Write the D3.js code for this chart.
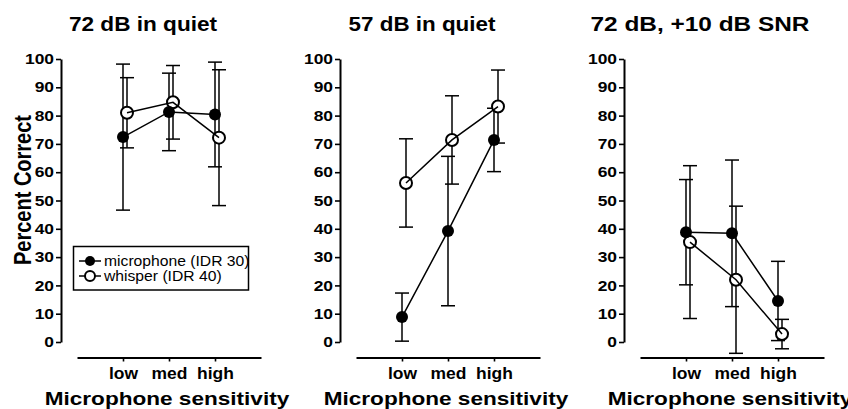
<!DOCTYPE html>
<html>
<head>
<meta charset="utf-8">
<script src="https://cdn.jsdelivr.net/npm/d3@7/dist/d3.min.js"></script>
<style>
  html, body { margin: 0; padding: 0; background: #fff; }
  svg { display: block; font-family: "Liberation Sans", Arial, sans-serif; }
</style>
</head>
<body>
<svg id="chart" width="848" height="409"></svg>
<script>
// ---- data ----
const categories = ["low", "med", "high"];
const panelTitles = ["72 dB in quiet", "57 dB in quiet", "72 dB, +10 dB SNR"];
const seriesNames = ["microphone (IDR 30)", "whisper (IDR 40)"];
// mean percent correct per panel, per microphone sensitivity
const micMean     = [[72.4, 81.3, 80.4], [8.8, 39.2, 71.4], [38.8, 38.4, 14.5]];
const micErr      = [[25.8, 13.7, 18.5], [8.5, 26.4, 11.2], [18.6, 25.9, 14.0]];
const whisperMean = [[81.0, 84.7, 72.2], [56.2, 71.4, 83.2], [35.3, 22.0, 2.8]];
const whisperErr  = [[12.4, 13.0, 24.0], [15.6, 15.6, 12.9], [27.0, 26.0, 5.2]];
const yTicks = [0, 10, 20, 30, 40, 50, 60, 70, 80, 90, 100];
const xTitle = "Microphone sensitivity";
const yTitle = "Percent Correct";

// ---- layout ----
const panelLeft = [61, 340, 624];      // y-axis position of each panel
const titleStretch = [1.13, 1.12, 1.22];
const titleShift = [82, 82, 76];
const xAxisY = 357.5;
const capHalf = 7;
const dodge = 4;                        // whisper series drawn slightly right

const svg = d3.select("#chart");
svg.append("rect").attr("width", 848).attr("height", 409).attr("fill", "#fff");

const y = d3.scaleLinear().domain([0, 100]).range([342, 59]);

function stretch(sel, k) {
  sel.each(function () {
    const w = this.getComputedTextLength();
    d3.select(this).attr("textLength", w * k).attr("lengthAdjust", "spacingAndGlyphs");
  });
}

const series = [
  { name: seriesNames[0], mean: micMean, err: micErr, filled: true, off: 0 },
  { name: seriesNames[1], mean: whisperMean, err: whisperErr, filled: false, off: dodge }
];

panelTitles.forEach((title, p) => {
  const ax = panelLeft[p];
  const x = d3.scaleLinear().domain([0, 4]).range([ax + 16, ax + 200]);
  const g = svg.append("g");

  // y axis
  const yAxis = g.append("g")
    .attr("transform", `translate(${ax},0)`)
    .call(d3.axisLeft(y).tickValues(yTicks).tickSize(5).tickSizeOuter(0).tickPadding(2));
  yAxis.select(".domain").attr("stroke", "#000").attr("stroke-width", 2);
  yAxis.selectAll(".tick line").attr("stroke", "#000").attr("stroke-width", 1.6);
  yAxis.selectAll(".tick text")
    .attr("fill", "#000").attr("font-size", 14.5).attr("font-weight", "bold")
    .attr("font-family", "Liberation Sans, Arial, sans-serif");
  stretch(yAxis.selectAll(".tick text"), 1.2);

  // x axis
  const xAxis = g.append("g")
    .attr("transform", `translate(0,${xAxisY})`)
    .call(d3.axisBottom(x).tickValues([1, 2, 3]).tickFormat(d => categories[d - 1])
      .tickSize(4).tickSizeOuter(0).tickPadding(6));
  xAxis.select(".domain").attr("stroke", "#000").attr("stroke-width", 2);
  xAxis.selectAll(".tick line").attr("stroke", "#000").attr("stroke-width", 1.6);
  xAxis.selectAll(".tick text")
    .attr("fill", "#000").attr("font-size", 16).attr("font-weight", "bold")
    .attr("font-family", "Liberation Sans, Arial, sans-serif");
  stretch(xAxis.selectAll(".tick text"), 1.09);

  // panel title
  const t = g.append("text")
    .attr("x", ax + titleShift[p]).attr("y", 31)
    .attr("text-anchor", "middle").attr("font-size", 20).attr("font-weight", "bold")
    .text(title);
  stretch(t, titleStretch[p]);

  // x axis title
  const xt = g.append("text")
    .attr("x", x(2) - 2).attr("y", 404.5)
    .attr("text-anchor", "middle").attr("font-size", 18.5).attr("font-weight", "bold")
    .text(xTitle);
  stretch(xt, 1.22);

  const px = (s, i) => x(i + 1) + s.off;

  // error bars
  series.forEach(s => {
    const eb = g.append("g").attr("stroke", "#000").attr("stroke-width", 1.5);
    s.mean[p].forEach((m, i) => {
      const e = s.err[p][i];
      const cx = px(s, i);
      eb.append("line").attr("x1", cx).attr("x2", cx).attr("y1", y(m - e)).attr("y2", y(m + e));
      [m - e, m + e].forEach(v => {
        eb.append("line").attr("x1", cx - capHalf).attr("x2", cx + capHalf)
          .attr("y1", y(v)).attr("y2", y(v));
      });
    });
  });

  // open markers below the connecting lines
  const line = d3.line().x(d => d[0]).y(d => d[1]);
  const open = series[1];
  g.append("g").selectAll("circle").data(open.mean[p]).join("circle")
    .attr("cx", (d, i) => px(open, i)).attr("cy", d => y(d)).attr("r", 6)
    .attr("fill", "#fff").attr("stroke", "#000").attr("stroke-width", 2);

  // connecting lines
  series.forEach(s => {
    g.append("path")
      .attr("d", line(s.mean[p].map((m, i) => [px(s, i), y(m)])))
      .attr("fill", "none").attr("stroke", "#000").attr("stroke-width", 1.5);
  });

  // filled markers
  const fill = series[0];
  g.append("g").selectAll("circle").data(fill.mean[p]).join("circle")
    .attr("cx", (d, i) => px(fill, i)).attr("cy", d => y(d)).attr("r", 6)
    .attr("fill", "#000");
});

// y axis title (first panel)
svg.append("text")
  .attr("transform", "translate(30.5,190) scale(1.2,1) rotate(-90)")
  .attr("text-anchor", "middle").attr("font-size", 20).attr("font-weight", "bold")
  .text(yTitle);

// legend
const lg = svg.append("g");
lg.append("rect").attr("x", 73.5).attr("y", 246.5).attr("width", 175).attr("height", 43.5)
  .attr("fill", "#fff").attr("stroke", "#000").attr("stroke-width", 1.5);
series.forEach((s, k) => {
  const ry = 261 + k * 15;
  lg.append("line").attr("x1", 79).attr("x2", 101).attr("y1", ry).attr("y2", ry)
    .attr("stroke", "#000").attr("stroke-width", 1.5);
  lg.append("circle").attr("cx", 90).attr("cy", ry).attr("r", 5)
    .attr("fill", s.filled ? "#000" : "#fff").attr("stroke", "#000").attr("stroke-width", s.filled ? 0 : 2);
  const lt = lg.append("text").attr("x", 104).attr("y", ry + 5)
    .attr("font-size", 14).text(s.name);
  stretch(lt, 1.12);
});
</script>
</body>
</html>
